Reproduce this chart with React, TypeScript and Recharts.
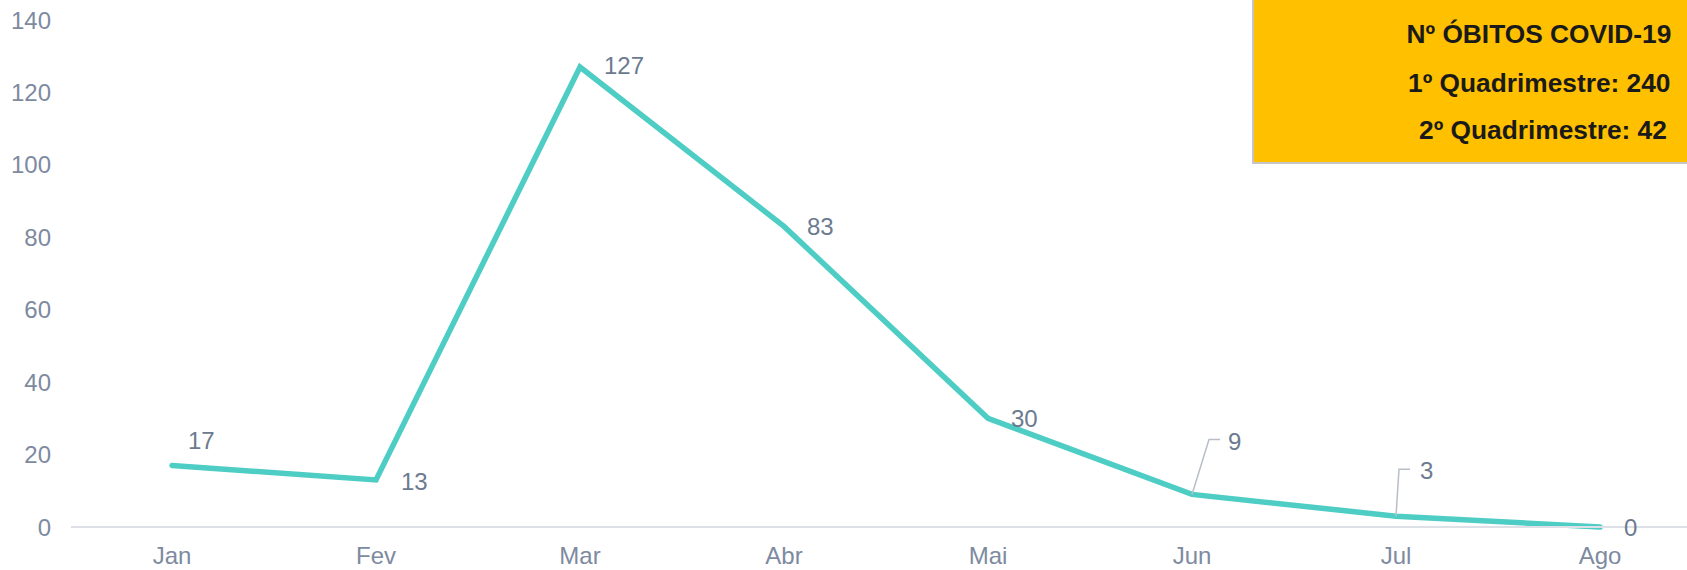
import React from 'react';
import { LineChart, Line, XAxis, YAxis } from 'recharts';

const months = ['Jan', 'Fev', 'Mar', 'Abr', 'Mai', 'Jun', 'Jul', 'Ago'];
const deaths = [17, 13, 127, 83, 30, 9, 3, 0];
const yTicks = [0, 20, 40, 60, 80, 100, 120, 140];
const boxTitle = 'Nº ÓBITOS COVID-19';
const boxLine1 = '1º Quadrimestre: 240';
const boxLine2 = '2º Quadrimestre: 42';

const data = months.map((m, i) => ({ month: m, value: deaths[i] }));

// label placement relative to each point (px)
const labelOffsets: { dx: number; dy: number; leader?: number[] }[] = [
  { dx: 16, dy: -25 },
  { dx: 25, dy: 2 },
  { dx: 24, dy: -2 },
  { dx: 23, dy: 0 },
  { dx: 23, dy: 0 },
  { dx: 36, dy: -53, leader: [17, -55, 28, -55] },
  { dx: 24, dy: -46, leader: [3, -47, 14, -47] },
  { dx: 24, dy: 0 },
];

const FONT = '"Liberation Sans", Arial, sans-serif';
const TICK_COLOR = '#7d8aa0';
const LABEL_COLOR = '#6c7a90';

const PointLabel = (props: any) => {
  const { x, y, value, index } = props;
  const o = labelOffsets[index] || { dx: 20, dy: 0 };
  return (
    <g>
      {o.leader && (
        <polyline
          points={`${x},${y} ${x + o.leader[0]},${y + o.leader[1]} ${x + o.leader[2]},${y + o.leader[3]}`}
          fill="none"
          stroke="#b8bec8"
          strokeWidth={1.5}
        />
      )}
      <text
        x={x + o.dx}
        y={y + o.dy}
        dy="0.355em"
        textAnchor="start"
        fill={LABEL_COLOR}
        fontSize={24}
        fontFamily={FONT}
      >
        {value}
      </text>
    </g>
  );
};

export default function App() {
  return (
    <div
      style={{
        position: 'fixed',
        left: 0,
        top: 0,
        width: 1687,
        height: 570,
        overflow: 'hidden',
        background: '#fff',
        fontFamily: FONT,
      }}
    >
      <LineChart
        width={1702}
        height={570}
        data={data}
        margin={{ top: 20, right: 0, left: 0, bottom: 0 }}
      >
        <XAxis
          dataKey="month"
          padding={{ left: 101, right: 102 }}
          height={43}
          tickLine={false}
          tickSize={0}
          tickMargin={20}
          axisLine={{ stroke: '#dde1e7', strokeWidth: 2 }}
          tick={{ fill: TICK_COLOR, fontSize: 24, fontFamily: FONT }}
          interval={0}
        />
        <YAxis
          width={71}
          domain={[0, 140]}
          ticks={yTicks}
          axisLine={false}
          tickLine={false}
          tickSize={0}
          tickMargin={20}
          tick={{ fill: TICK_COLOR, fontSize: 24, fontFamily: FONT }}
        />
        <Line
          type="linear"
          dataKey="value"
          stroke="#4ecdc4"
          strokeWidth={5.5}
          strokeLinecap="round"
          dot={false}
          activeDot={false}
          isAnimationActive={false}
          label={(p: any) => <PointLabel {...p} />}
        />
      </LineChart>
      <div
        style={{
          position: 'absolute',
          left: 1252,
          top: 0,
          width: 440,
          height: 164,
          boxSizing: 'border-box',
          background: '#FFC000',
          borderLeft: '2px solid #c6c6c6',
          borderBottom: '2px solid #c6c6c6',
        }}
      >
        <svg width={440} height={163} style={{ position: 'absolute', left: -2, top: 0 }}>
          <text x={154.5} y={42.5} fontSize={26.3} fontWeight="bold" fontFamily={FONT} fill="#1a1a1a">
            {boxTitle}
          </text>
          <text x={156} y={91.5} fontSize={26.3} fontWeight="bold" fontFamily={FONT} fill="#1a1a1a">
            {boxLine1}
          </text>
          <text x={167} y={138.5} fontSize={26.3} fontWeight="bold" fontFamily={FONT} fill="#1a1a1a">
            {boxLine2}
          </text>
        </svg>
      </div>
    </div>
  );
}
